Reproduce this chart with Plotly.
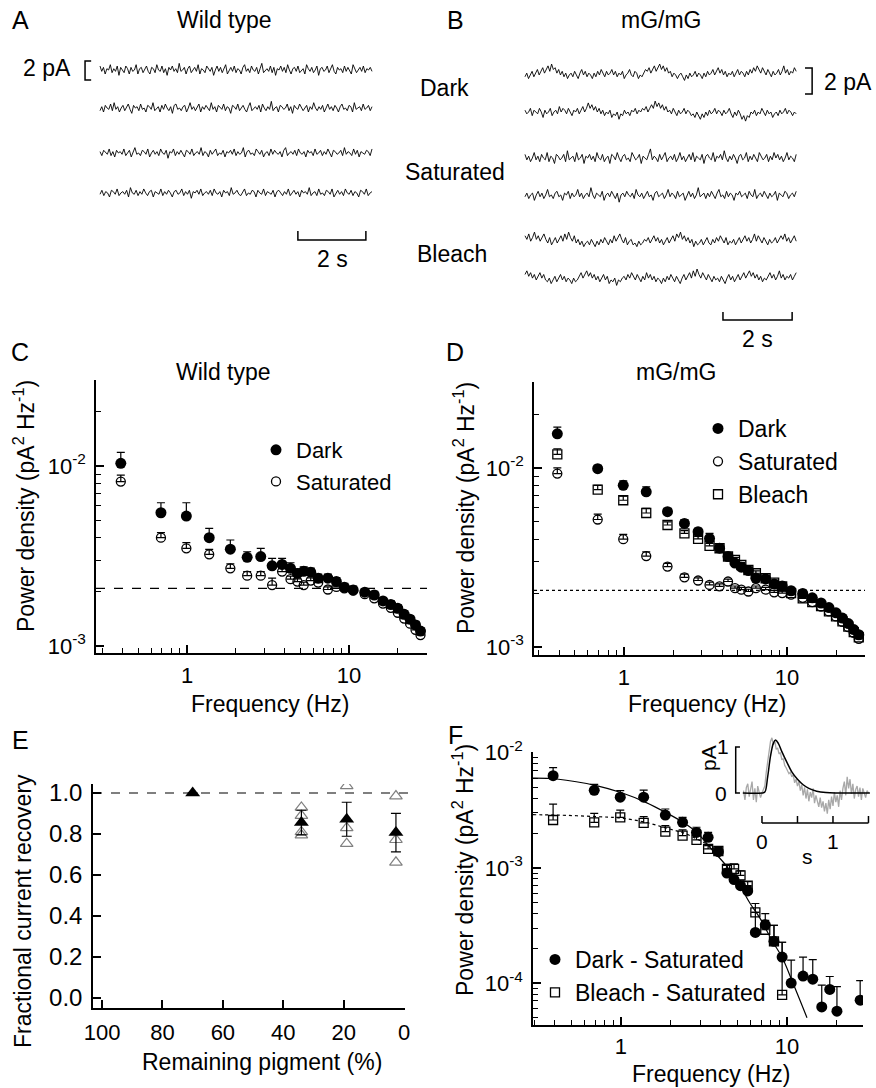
import numpy as np
import plotly.graph_objects as go

W, H = 876, 1088
FONT = "Arial, 'Liberation Sans', Helvetica, sans-serif"

# ---------------- data ----------------
# Panel A / B: noise traces, values in noise units (NOISE_UNIT_PA pA each)
NOISE_UNIT_PA = 0.14
WT_DARK_1 = [3,-1,2,-3,1,0,4,-2,1,-1,3,-4,2,0,-2,3,1,-3,2,-1,0,4,-3,1,2,-2,0,3,-1,-3,2,1,-2,4,0,-1,3,-2,1,-4,2,0,3,-1,1,-2,5,-1,0,2,-3,1,3,-2,0,2,-1,4,-3,1,0,-2,3,1,-1,2,-4,0,3,-1,2,-2,1,4,-3,0,2,-1,3,-2,1,0,-3,2,4,-1,1,-2,3,0,-1,2,-3,1,5,-2,0,1,-1,3,-2,2,-4,1,0,3,-1,2,-2,4,0,-3,1,2,-1,3,-2,0,1,-3,4,1,-1,2,-2,0,3,-4,1,2,-1,0,3,-2,1,4,-1,-3,2,0,1,-2,3,-1,2,0,-3,4,1,-2,0,2,-1,3,-2,1,0,2,-1]
WT_DARK_2 = [-2,1,-3,2,0,-1,3,-2,4,-1,1,-3,0,2,-2,1,3,-1,-4,2,0,1,-2,3,-1,0,-3,2,1,-1,4,-2,0,1,-3,2,-1,3,0,-2,1,-4,2,3,-1,0,-2,1,2,-3,0,4,-1,1,-2,0,3,-3,1,-1,2,0,-2,4,-1,1,-3,2,0,-1,3,-2,1,0,-4,2,1,-1,3,-2,0,2,-1,-3,1,4,-2,0,1,-1,2,-3,3,0,-2,1,-1,5,-2,0,1,-3,2,1,-1,0,3,-2,1,-4,2,0,-1,3,1,-2,0,2,-3,1,-1,4,0,-2,1,-1,2,-3,0,3,-1,1,-2,2,0,-3,1,3,-1,0,-2,2,1,-3,4,-1,0,1,-2,3,-1,0,2,-2,1]
WT_SAT_1 = [1,-2,2,0,-1,3,-2,1,-3,2,0,1,-1,3,-2,0,2,-3,1,4,-1,0,-2,2,1,-1,3,-3,0,2,-1,1,-2,3,0,-1,2,-4,1,0,3,-2,1,-1,2,0,-3,2,1,-1,3,-2,0,1,-1,4,-2,1,0,-3,2,-1,1,3,-2,0,-1,2,-3,1,0,2,-1,3,-2,1,-1,0,4,-3,1,2,-1,0,-2,3,1,-1,2,-3,0,1,-2,3,-1,2,0,-1,1,-3,2,4,-2,0,1,-1,2,-2,3,0,-1,1,-3,2,0,1,-2,3,-1,0,2,-2,1,-1,3,0,-3,2,1,-1,0,2,-2,4,-1,1,0,-2,3,-1,2,-3,1,0,-1,2,1,-2,3]
WT_SAT_2 = [-1,2,-2,1,0,-3,2,1,-1,3,-2,0,1,-1,2,-3,4,0,-1,2,-2,1,-1,3,0,-2,1,2,-3,1,0,-1,3,-2,1,-1,2,0,-3,1,2,-1,0,3,-2,1,-1,2,-4,1,0,2,-1,3,-2,0,1,-1,2,-2,3,0,-1,1,-3,2,0,1,-2,4,-1,0,2,-1,-2,1,3,-2,0,-1,2,1,-3,2,0,-1,3,-2,1,0,-1,2,-3,1,2,0,-2,1,-1,3,-2,0,2,-1,1,-3,2,0,1,-1,4,-2,0,1,-2,3,-1,0,-2,2,1,-1,3,-3,0,2,-1,1,-2,3,0,-1,2,-2,1,0,-3,2,1,-1,3,-2,0,1]
MG_DARK_1 = [-1,1,-2,0,2,-1,1,3,0,2,4,1,3,5,2,6,3,4,1,3,0,2,-1,1,-2,0,1,-1,2,0,-2,1,3,0,2,-1,1,0,-2,1,-1,2,0,3,1,-1,2,0,1,3,0,2,-1,1,0,2,-2,0,1,3,0,-1,2,1,-2,0,-1,1,3,2,4,1,3,5,2,4,6,3,5,2,4,1,2,-1,1,0,-2,0,1,-1,-3,0,-2,1,-1,0,2,-1,1,0,-2,1,-1,2,0,1,3,0,2,4,1,3,0,2,-1,1,0,2,-1,1,3,0,2,1,-1,2,0,3,1,4,2,5,3,1,4,2,0,3,1,-1,2,0,1,3,0,2,5,1,3,0,2,1,4,2]
MG_DARK_2 = [1,-1,0,2,-2,1,0,-1,2,0,-3,1,-1,0,2,-2,0,1,-1,3,0,2,1,-1,2,0,-2,1,0,2,-1,1,3,0,2,5,2,4,1,3,0,2,-1,1,-2,0,-1,1,-3,-1,-2,0,-4,-1,-2,1,-1,0,-2,1,0,2,-1,1,0,2,1,3,0,2,4,2,6,3,5,2,4,1,3,0,1,-1,2,0,-2,1,-1,0,2,-1,1,0,-2,-1,-3,0,-2,-4,-1,-3,0,-2,1,-1,0,2,-1,1,0,-2,1,-1,0,2,-1,-3,0,-2,1,-1,-4,-2,-5,-2,-3,0,-1,1,-2,0,-1,2,0,-2,1,-1,0,-3,-1,0,-2,1,-1,0,2,-1,1,0,-2,0,-1]
MG_SAT_1 = [2,-1,1,-2,0,3,-1,1,-2,2,0,-1,3,-2,1,0,-3,2,1,-1,0,2,-2,4,-1,0,1,-2,3,-1,0,2,-3,1,0,2,-1,1,-2,3,0,-1,2,-2,0,1,-3,2,1,-1,3,0,-2,1,2,-1,0,-2,3,1,-1,0,2,-3,1,0,-1,2,5,-1,1,0,-2,2,-1,1,3,-2,0,1,-1,2,-2,0,3,-1,1,-2,0,2,-1,3,-2,1,0,-1,2,-3,1,2,0,-1,3,-2,1,0,2,-1,4,0,-2,1,-1,2,0,-3,1,2,-1,0,3,-2,1,-1,2,0,-2,3,1,-1,0,2,-2,1,-1,3,0,2,-1,1,-2,0,3,-1,1,0,-2,2]
MG_SAT_2 = [-1,1,-2,0,1,-3,0,2,-1,1,-2,0,3,-1,0,-2,1,2,-1,0,-3,1,0,2,-2,1,-1,0,3,-1,1,-2,0,1,-1,4,0,-2,1,0,-1,2,-3,0,1,-1,2,0,-2,1,-4,0,1,-1,2,0,-1,1,-2,3,0,-1,1,-2,0,2,-1,0,-3,1,2,-1,0,1,-2,0,3,-1,1,0,-2,2,-1,0,1,-3,0,2,-1,1,-2,0,4,-1,0,1,-2,1,-1,2,0,-2,1,3,-1,0,-2,2,-1,1,0,-3,1,0,2,-1,0,1,-2,2,0,-1,3,-2,0,1,-1,2,0,-2,1,-1,0,2,-3,1,0,-1,2,1,-2,0,1,-1,2]
MG_BLEACH_1 = [4,2,5,1,3,6,2,4,1,3,5,2,0,3,-1,1,3,0,2,4,1,5,2,6,3,1,4,0,2,-1,1,-2,0,1,-1,2,0,-2,1,-1,2,0,3,1,-1,2,0,4,1,3,5,2,0,3,-1,1,2,-1,0,-2,1,-1,0,2,1,3,0,2,4,1,3,0,2,-1,1,3,0,2,4,1,5,3,6,2,4,1,3,0,2,-2,1,-1,0,2,-1,1,3,0,-1,2,0,3,1,4,2,0,3,-1,1,0,2,-1,1,3,0,2,4,1,3,0,2,5,1,4,2,0,3,1,-1,2,0,1,3,0,2,4,2,5,1,3,0,2,4,1]
MG_BLEACH_2 = [3,5,2,4,1,3,0,2,4,1,3,0,-1,1,-2,0,2,-1,1,3,0,2,-1,1,0,-2,1,-1,0,2,4,1,3,5,2,4,1,3,0,2,-1,1,3,0,2,-2,0,-1,1,-3,0,-1,1,2,0,3,1,4,2,0,3,1,-1,2,0,4,1,3,0,2,-1,1,0,-2,1,-1,2,0,3,1,-1,2,0,-2,1,3,0,2,4,1,5,2,6,3,1,4,2,0,3,1,-1,2,0,1,-1,2,0,-2,1,3,0,2,-1,1,3,0,2,4,1,3,5,2,4,1,3,0,2,-1,1,0,2,4,1,3,0,2,5,1,3,0,2,1,3,0,2,4]
TRACE_DURATION_S = 8.0

# Panels C / D: power spectra
FREQ = [0.39, 0.69, 0.99, 1.37, 1.85, 2.35, 2.85, 3.35, 3.86, 4.35, 4.8, 5.25, 5.8, 6.45,
        7.4, 8.35, 9.35, 10.6, 12.5, 14.3, 16.2, 18.1, 20.0, 21.9, 23.8, 25.7, 27.6]
WT_DARK = [1.035e-2, 5.5e-3, 5.27e-3, 4.0e-3, 3.45e-3, 3.11e-3, 3.14e-3, 2.79e-3, 2.84e-3, 2.7e-3,
           2.53e-3, 2.6e-3, 2.57e-3, 2.38e-3, 2.38e-3, 2.28e-3, 2.12e-3, 2.05e-3, 1.99e-3, 1.92e-3,
           1.78e-3, 1.70e-3, 1.62e-3, 1.50e-3, 1.41e-3, 1.31e-3, 1.21e-3]
WT_DARK_ERR = [1.55e-3, 7.5e-4, 9.8e-4, 5e-4, 4.3e-4, 2.3e-4, 3.5e-4, 2.8e-4, 2.3e-4, 2e-4,
               1.5e-4, 1.5e-4, 1.4e-4, 1.3e-4, 1.3e-4, 1.2e-4, 1.1e-4, 1e-4, 9e-5, 9e-5,
               8e-5, 8e-5, 7e-5, 7e-5, 6e-5, 6e-5, 5e-5]
WT_SAT = [8.2e-3, 4.0e-3, 3.49e-3, 3.23e-3, 2.7e-3, 2.46e-3, 2.46e-3, 2.18e-3, 2.59e-3, 2.35e-3,
          2.28e-3, 2.18e-3, 2.31e-3, 2.25e-3, 2.06e-3, 2.13e-3, 2.09e-3, 2.03e-3, 1.94e-3, 1.84e-3,
          1.72e-3, 1.63e-3, 1.53e-3, 1.42e-3, 1.33e-3, 1.23e-3, 1.15e-3]
WT_SAT_ERR = [7e-4, 2.7e-4, 2.6e-4, 2.1e-4, 1.6e-4, 1.3e-4, 1.3e-4, 2e-4, 1e-4, 9e-5,
              8e-5, 8e-5, 8e-5, 7e-5, 7e-5, 7e-5, 6e-5, 6e-5, 6e-5, 6e-5,
              5e-5, 5e-5, 5e-5, 5e-5, 5e-5, 4e-5, 4e-5]
MG_DARK = [1.55e-2, 9.9e-3, 8.0e-3, 7.35e-3, 5.7e-3, 4.9e-3, 4.4e-3, 4.04e-3, 3.56e-3, 3.2e-3,
           2.94e-3, 2.79e-3, 2.67e-3, 2.42e-3, 2.4e-3, 2.25e-3, 2.19e-3, 2.06e-3, 1.99e-3, 1.88e-3,
           1.76e-3, 1.66e-3, 1.55e-3, 1.45e-3, 1.35e-3, 1.25e-3, 1.17e-3]
MG_DARK_ERR = [1.4e-3, 4.5e-4, 4.7e-4, 4.8e-4, 2.4e-4, 2.5e-4, 1.9e-4, 2.7e-4, 1.2e-4, 1.1e-4,
               1e-4, 1e-4, 9e-5, 1.3e-4, 9e-5, 8e-5, 8e-5, 7e-5, 7e-5, 6e-5,
               6e-5, 6e-5, 5e-5, 5e-5, 5e-5, 4e-5, 4e-5]
MG_SAT = [9.3e-3, 5.15e-3, 4.0e-3, 3.22e-3, 2.81e-3, 2.45e-3, 2.35e-3, 2.22e-3, 2.18e-3, 2.32e-3,
          2.13e-3, 2.09e-3, 2.04e-3, 2.13e-3, 2.09e-3, 2.02e-3, 2.0e-3, 1.96e-3, 1.88e-3, 1.78e-3,
          1.68e-3, 1.58e-3, 1.48e-3, 1.38e-3, 1.29e-3, 1.20e-3, 1.11e-3]
MG_SAT_ERR = [7e-4, 3.7e-4, 2.5e-4, 1.8e-4, 1.2e-4, 1e-4, 8e-5, 8e-5, 7e-5, 7e-5,
              6e-5, 6e-5, 6e-5, 6e-5, 6e-5, 5e-5, 5e-5, 5e-5, 5e-5, 5e-5,
              5e-5, 4e-5, 4e-5, 4e-5, 4e-5, 4e-5, 4e-5]
MG_BLEACH = [1.19e-2, 7.57e-3, 6.6e-3, 5.6e-3, 4.8e-3, 4.31e-3, 4.01e-3, 3.67e-3, 3.56e-3, 3.2e-3,
             3.06e-3, 2.87e-3, 2.69e-3, 2.58e-3, 2.42e-3, 2.29e-3, 2.18e-3, 2.0e-3, 1.87e-3, 1.78e-3,
             1.69e-3, 1.58e-3, 1.48e-3, 1.39e-3, 1.30e-3, 1.21e-3, 1.13e-3]
MG_BLEACH_ERR = [9e-4, 4.3e-4, 3.5e-4, 3.4e-4, 2e-4, 1.5e-4, 1.3e-4, 1.2e-4, 1.1e-4, 1e-4,
                 1e-4, 9e-5, 9e-5, 8e-5, 8e-5, 7e-5, 7e-5, 6e-5, 6e-5, 6e-5,
                 5e-5, 5e-5, 5e-5, 4e-5, 4e-5, 4e-5, 4e-5]
WT_NOISE_LEVEL = 2.09e-3
MG_NOISE_LEVEL = 2.07e-3

# Panel E: fractional current recovery
E_PIGMENT_MEAN = [70, 34, 19, 2.7]
E_RECOVERY_MEAN = [1.0, 0.856, 0.872, 0.807]
E_RECOVERY_ERR = [0.0, 0.06, 0.083, 0.094]
E_PIGMENT_CELLS = [34, 34, 34, 34, 19, 19, 19, 2.7, 2.7, 2.7]
E_RECOVERY_CELLS = [0.93, 0.89, 0.81, 0.795, 1.035, 0.83, 0.753, 0.985, 0.772, 0.662]

# Panel F: difference spectra
F_DARK_FREQ = FREQ[:23] + [FREQ[26]]
F_DARK = [6.3e-3, 4.7e-3, 4.1e-3, 4.1e-3, 2.87e-3, 2.48e-3, 2.03e-3, 1.84e-3, 1.38e-3, 9.0e-4,
          7.9e-4, 7.0e-4, 6.3e-4, 2.75e-4, 3.2e-4, 2.3e-4, 1.68e-4, 1.0e-4, 1.15e-4, 1.08e-4,
          6.2e-5, 8.8e-5, 5.7e-5, 7.1e-5]
F_DARK_ERR = [1.1e-3, 6e-4, 5.7e-4, 6.3e-4, 3.7e-4, 2.6e-4, 2.2e-4, 1.9e-4, 1.5e-4, 1.5e-4,
              1e-4, 8e-5, 6e-5, 1.36e-4, 8e-5, 8.7e-5, 5.8e-5, 5.8e-5, 5.3e-5, 5.2e-5,
              3.4e-5, 2.6e-5, 3.6e-5, 3.4e-5]
F_BLEACH_FREQ = FREQ[:17]
F_BLEACH = [2.6e-3, 2.48e-3, 2.74e-3, 2.45e-3, 2.06e-3, 1.9e-3, 1.75e-3, 1.46e-3, 1.4e-3, 9.8e-4,
            9.8e-4, 8.6e-4, 7.0e-4, 4.1e-4, 2.9e-4, 2.3e-4, 7.9e-5]
F_BLEACH_ERR = [9.7e-4, 4.9e-4, 4.3e-4, 3.3e-4, 2.6e-4, 2.3e-4, 1.6e-4, 1e-4, 1e-4, 9e-5,
                1e-4, 8e-5, 6e-5, 8e-5, 6e-5, 8.7e-5, 1.47e-4]
FIT_DARK_FREQ = [0.295, 0.41, 0.72, 1.0, 1.41, 1.9, 2.4, 2.86, 3.44, 4.29, 5.2, 6.0, 6.87, 8.24, 9.33, 10.8, 13.2]
FIT_DARK = [6.0e-3, 5.9e-3, 5.15e-3, 4.5e-3, 3.7e-3, 2.97e-3, 2.45e-3, 2.03e-3, 1.5e-3, 1.05e-3,
            7.0e-4, 4.9e-4, 3.66e-4, 2.26e-4, 1.68e-4, 1.02e-4, 5.0e-5]
FIT_BLEACH_FREQ = [0.295, 0.41, 0.72, 1.0, 1.41, 1.9, 2.4, 2.86, 3.33, 3.82]
FIT_BLEACH = [2.89e-3, 2.87e-3, 2.78e-3, 2.7e-3, 2.48e-3, 2.2e-3, 2.0e-3, 1.78e-3, 1.59e-3, 1.37e-3]

# Panel F inset: single-photon response (pA) sampled every 20 ms from -0.26 s
INSET_T0, INSET_DT = -0.26, 0.02
INSET_RAW = [0.05,-0.15,0.12,0.2,-0.08,0.05,0.25,-0.15,0.1,-0.2,0.15,0.02,-0.1,
             0.0,0.1,0.15,0.45,0.7,0.95,1.12,1.2,1.05,1.15,0.95,0.98,0.85,0.88,0.72,0.75,0.6,0.55,0.5,0.42,0.45,
             0.35,0.4,0.22,0.3,0.15,0.25,0.05,0.18,-0.05,0.12,-0.12,0.08,-0.18,0.02,-0.1,0.1,-0.22,-0.05,-0.15,-0.3,
             -0.1,-0.32,-0.18,-0.4,-0.22,-0.45,-0.15,-0.35,-0.08,-0.28,0.02,-0.2,-0.05,-0.3,0.05,-0.15,0.1,0.25,
             -0.05,0.35,0.1,0.3,-0.02,0.2,-0.12,0.08,0.15,-0.08,0.12,-0.15,0.1,-0.02,-0.1,0.05,0.0]
INSET_FIT_T = [-0.27, 0.0, 0.04, 0.08, 0.12, 0.16, 0.19, 0.23, 0.28, 0.35, 0.42, 0.5, 0.58, 0.66, 0.77, 0.9, 1.05, 1.52]
INSET_FIT = [0.0, 0.0, 0.02, 0.35, 0.8, 1.08, 1.15, 1.08, 0.9, 0.67, 0.46, 0.3, 0.18, 0.1, 0.04, 0.01, 0.0, 0.0]


# ---------------- helpers ----------------
def xdom(a, b):
    return [a / W, b / W]


def ydom(top, bottom):
    return [1 - bottom / H, 1 - top / H]


def minor_log(lo_exp, hi_exp, lo=None, hi=None):
    vals = []
    for e in range(lo_exp, hi_exp + 1):
        for k in range(2, 10):
            v = k * 10.0 ** e
            if (lo is None or v >= lo) and (hi is None or v <= hi):
                vals.append(v)
    return vals


BLACK = "black"
AX = dict(showline=True, linecolor=BLACK, linewidth=1.5, ticks="inside", ticklen=8, tickwidth=1.5,
          tickcolor=BLACK, showgrid=False, zeroline=False, mirror=False, automargin=False,
          tickfont=dict(family=FONT, size=22, color=BLACK))
HIDDEN = dict(visible=False, showgrid=False, zeroline=False, automargin=False)


def err(vals):
    return dict(type="data", symmetric=False, array=vals, arrayminus=[0] * len(vals),
                thickness=1.2, width=4, color=BLACK)


fig = go.Figure()

# ---------------- Panel A & B traces ----------------
A_ROWS = [-3.16, -7.16, -11.89, -16.1]
for off, vals in zip(A_ROWS, [WT_DARK_1, WT_DARK_2, WT_SAT_1, WT_SAT_2]):
    t = np.linspace(0, TRACE_DURATION_S, len(vals))
    fig.add_trace(go.Scatter(x=t, y=off + NOISE_UNIT_PA * np.array(vals), mode="lines",
                             line=dict(color=BLACK, width=0.9), xaxis="x6", yaxis="y6", showlegend=False))
B_ROWS = [-2.69, -5.54, -9.08, -11.92, -15.62, -18.46]
for off, vals in zip(B_ROWS, [MG_DARK_1, MG_DARK_2, MG_SAT_1, MG_SAT_2, MG_BLEACH_1, MG_BLEACH_2]):
    t = np.linspace(0, TRACE_DURATION_S, len(vals))
    fig.add_trace(go.Scatter(x=t, y=off + NOISE_UNIT_PA * np.array(vals), mode="lines",
                             line=dict(color=BLACK, width=0.9), xaxis="x7", yaxis="y7", showlegend=False))

# ---------------- Panel C ----------------
C_RANGE_X = [-0.562, 1.481]
fig.add_trace(go.Scatter(x=[10 ** C_RANGE_X[0], 10 ** C_RANGE_X[1]], y=[WT_NOISE_LEVEL] * 2, mode="lines",
                         line=dict(color=BLACK, width=1.2, dash="dash"), xaxis="x", yaxis="y", showlegend=False))
fig.add_trace(go.Scatter(x=FREQ, y=WT_DARK, mode="markers", name="Dark", legend="legend",
                         marker=dict(symbol="circle", size=11, color=BLACK),
                         error_y=err(WT_DARK_ERR), xaxis="x", yaxis="y"))
fig.add_trace(go.Scatter(x=FREQ, y=WT_SAT, mode="markers", name="Saturated", legend="legend",
                         marker=dict(symbol="circle-open", size=9, color=BLACK, line=dict(width=1.3)),
                         error_y=err(WT_SAT_ERR), xaxis="x", yaxis="y"))

# ---------------- Panel D ----------------
D_RANGE_X = [-0.552, 1.479]
fig.add_trace(go.Scatter(x=[10 ** D_RANGE_X[0], 10 ** D_RANGE_X[1]], y=[MG_NOISE_LEVEL] * 2, mode="lines",
                         line=dict(color=BLACK, width=1.2, dash="dot"), xaxis="x2", yaxis="y2", showlegend=False))
fig.add_trace(go.Scatter(x=FREQ, y=MG_DARK, mode="markers", name="Dark", legend="legend2",
                         marker=dict(symbol="circle", size=11, color=BLACK),
                         error_y=err(MG_DARK_ERR), xaxis="x2", yaxis="y2"))
fig.add_trace(go.Scatter(x=FREQ, y=MG_SAT, mode="markers", name="Saturated", legend="legend2",
                         marker=dict(symbol="circle-open", size=9, color=BLACK, line=dict(width=1.3)),
                         error_y=err(MG_SAT_ERR), xaxis="x2", yaxis="y2"))
fig.add_trace(go.Scatter(x=FREQ, y=MG_BLEACH, mode="markers", name="Bleach", legend="legend2",
                         marker=dict(symbol="square-open", size=9, color=BLACK, line=dict(width=1.3)),
                         error_y=err(MG_BLEACH_ERR), xaxis="x2", yaxis="y2"))

# ---------------- Panel E ----------------
fig.add_trace(go.Scatter(x=E_PIGMENT_CELLS, y=E_RECOVERY_CELLS, mode="markers", showlegend=False,
                         marker=dict(symbol="triangle-up-open", size=11, color="#808080", line=dict(width=1.2)),
                         xaxis="x3", yaxis="y3"))
fig.add_trace(go.Scatter(x=E_PIGMENT_MEAN, y=E_RECOVERY_MEAN, mode="markers", showlegend=False,
                         marker=dict(symbol="triangle-up", size=13, color=BLACK),
                         error_y=dict(type="data", array=E_RECOVERY_ERR, thickness=1.2, width=5, color=BLACK),
                         xaxis="x3", yaxis="y3"))

# ---------------- Panel F ----------------
fig.add_trace(go.Scatter(x=FIT_DARK_FREQ, y=FIT_DARK, mode="lines", showlegend=False,
                         line=dict(color=BLACK, width=1.2, shape="spline"), xaxis="x4", yaxis="y4"))
fig.add_trace(go.Scatter(x=FIT_BLEACH_FREQ, y=FIT_BLEACH, mode="lines", showlegend=False,
                         line=dict(color=BLACK, width=1.2, dash="dot", shape="spline"), xaxis="x4", yaxis="y4"))
fig.add_trace(go.Scatter(x=F_DARK_FREQ, y=F_DARK, mode="markers", name="Dark - Saturated", legend="legend3",
                         marker=dict(symbol="circle", size=11, color=BLACK),
                         error_y=err(F_DARK_ERR), xaxis="x4", yaxis="y4"))
fig.add_trace(go.Scatter(x=F_BLEACH_FREQ, y=F_BLEACH, mode="markers", name="Bleach - Saturated", legend="legend3",
                         marker=dict(symbol="square-open", size=9, color=BLACK, line=dict(width=1.3)),
                         error_y=err(F_BLEACH_ERR), xaxis="x4", yaxis="y4"))

# inset
t_in = INSET_T0 + INSET_DT * np.arange(len(INSET_RAW))
fig.add_trace(go.Scatter(x=t_in, y=INSET_RAW, mode="lines", line=dict(color="#a8a8a8", width=1.3),
                         xaxis="x5", yaxis="y5", showlegend=False))
fig.add_trace(go.Scatter(x=INSET_FIT_T, y=INSET_FIT, mode="lines", line=dict(color=BLACK, width=1.5, shape="spline"),
                         xaxis="x5", yaxis="y5", showlegend=False))

# ---------------- shapes (scale bars, inset axes) ----------------
shapes = []
LW = 1.5
shapes.append(dict(type="path", xref="x6", yref="y6", line=dict(color=BLACK, width=LW),
                   path="M -0.26,-2.21 L -0.44,-2.21 L -0.44,-4.21 L -0.26,-4.21"))
shapes.append(dict(type="path", xref="x6", yref="y6", line=dict(color=BLACK, width=LW),
                   path="M 5.82,-20.1 L 5.82,-21.05 L 7.82,-21.05 L 7.82,-20.1"))
shapes.append(dict(type="path", xref="x7", yref="y7", line=dict(color=BLACK, width=LW),
                   path="M 8.26,-2.15 L 8.47,-2.15 L 8.47,-4.15 L 8.26,-4.15"))
shapes.append(dict(type="path", xref="x7", yref="y7", line=dict(color=BLACK, width=LW),
                   path="M 5.84,-20.92 L 5.84,-21.54 L 7.88,-21.54 L 7.88,-20.92"))
shapes.append(dict(type="line", xref="x3 domain", yref="y3", x0=0, x1=1.02, y0=1.0, y1=1.0,
                   line=dict(color=BLACK, width=1.2, dash="dash")))
shapes.append(dict(type="path", xref="x5", yref="y5", line=dict(color=BLACK, width=LW),
                   path="M -0.31,1 L -0.37,1 L -0.37,0 L -0.31,0"))
shapes.append(dict(type="line", xref="x5", yref="y5", x0=0, x1=1.5, y0=-0.65, y1=-0.65,
                   line=dict(color=BLACK, width=LW)))
for tk in [0, 0.5, 1.0, 1.5]:
    shapes.append(dict(type="line", xref="x5", yref="y5", x0=tk, x1=tk, y0=-0.65, y1=-0.5,
                       line=dict(color=BLACK, width=LW)))

# ---------------- annotations ----------------
ann = []


def text(s, px, py, size=23, angle=0, xanchor="center"):
    ann.append(dict(text=s, x=px / W, y=1 - py / H, xref="paper", yref="paper", showarrow=False,
                    xanchor=xanchor, yanchor="middle", textangle=angle,
                    font=dict(family=FONT, size=size, color=BLACK)))


text("A", 20, 20, 25)
text("B", 455, 20, 25)
text("Wild type", 224, 20)
text("mG/mG", 661, 20)
text("2 pA", 47, 68)
text("2 pA", 848, 82)
text("Dark", 444, 88)
text("Saturated", 455, 172)
text("Bleach", 452, 254)
text("2 s", 332, 259)
text("2 s", 757, 339)
text("C", 20, 352, 25)
text("D", 455, 352, 25)
text("Wild type", 223, 372)
text("mG/mG", 676, 372)
YT = "Power density (pA<sup>2</sup> Hz<sup>-1</sup>)"
text(YT, 24, 506, angle=-90)
text(YT, 464, 508, angle=-90)
text("Frequency (Hz)", 270, 704)
text("Frequency (Hz)", 707, 704)
text("E", 20, 740, 25)
text("F", 455, 735, 25)
text("Fractional current recovery", 23, 911, angle=-90)
text("Remaining pigment (%)", 262, 1062)
text(YT, 463, 870, angle=-90)
text("Frequency (Hz)", 711, 1074)
text("1", 723, 746, 21)
text("0", 721, 793, 21)
text("pA", 708, 758, 21, angle=-90)
text("0", 762, 841, 21)
text("1", 833, 841, 21)
text("s", 807, 856, 21)

# ---------------- layout ----------------
def LOGTICK(e):
    return "10<sup>%d</sup>" % e


MINOR = dict(ticks="inside", ticklen=5, tickwidth=1.2, tickcolor=BLACK, tickmode="array")
LEG = dict(xanchor="left", yanchor="top", bgcolor="rgba(0,0,0,0)",
           font=dict(family=FONT, size=23, color=BLACK), itemwidth=30, tracegroupgap=0)

layout = dict(
    template="none",
    width=W, height=H, margin=dict(l=0, r=0, t=0, b=0, pad=0, autoexpand=False),
    paper_bgcolor="white", plot_bgcolor="rgba(0,0,0,0)",
    font=dict(family=FONT, size=22, color=BLACK),
    shapes=shapes, annotations=ann,
    xaxis=dict(AX, type="log", domain=xdom(96, 427), range=C_RANGE_X, anchor="y",
               tickvals=[1, 10], ticktext=["1", "10"], ticklabelstandoff=2,
               minor=dict(MINOR, tickvals=minor_log(-1, 1, 0.28, 30))),
    yaxis=dict(AX, type="log", domain=ydom(380, 653), range=[-3.039, -1.522], anchor="x",
               tickvals=[1e-3, 1e-2], ticktext=[LOGTICK(-3), LOGTICK(-2)], ticklabelstandoff=4,
               minor=dict(MINOR, tickvals=minor_log(-3, -2, 1e-3, 0.02))),
    xaxis2=dict(AX, type="log", domain=xdom(534, 865), range=D_RANGE_X, anchor="y2",
                tickvals=[1, 10], ticktext=["1", "10"], ticklabelstandoff=2,
                minor=dict(MINOR, tickvals=minor_log(-1, 1, 0.28, 30))),
    yaxis2=dict(AX, type="log", domain=ydom(382, 655), range=[-3.045, -1.520], anchor="x2",
                tickvals=[1e-3, 1e-2], ticktext=[LOGTICK(-3), LOGTICK(-2)], ticklabelstandoff=4,
                minor=dict(MINOR, tickvals=minor_log(-3, -2, 1e-3, 0.02))),
    xaxis3=dict(AX, domain=xdom(93, 405), range=[103, -0.3], anchor="y3",
                tickvals=[0, 20, 40, 60, 80, 100], ticklabelstandoff=4),
    yaxis3=dict(AX, domain=ydom(784, 1008), range=[-0.049, 1.044], anchor="x3",
                tickvals=[0, 0.2, 0.4, 0.6, 0.8, 1.0], tickformat=".1f", ticklabelstandoff=4,
                tickfont=dict(family=FONT, size=24, color=BLACK)),
    xaxis4=dict(AX, type="log", domain=xdom(533, 863), range=[-0.530, 1.458], anchor="y4",
                tickvals=[1, 10], ticktext=["1", "10"], ticklabelstandoff=1,
                minor=dict(MINOR, tickvals=minor_log(-1, 1, 0.3, 28))),
    yaxis4=dict(AX, type="log", domain=ydom(752, 1025), range=[-4.364, -1.995], anchor="x4",
                tickvals=[1e-4, 1e-3, 1e-2], ticktext=[LOGTICK(-4), LOGTICK(-3), LOGTICK(-2)],
                ticklabelstandoff=4,
                minor=dict(MINOR, tickvals=minor_log(-5, -3, 4.4e-5, 9.5e-3))),
    xaxis5=dict(HIDDEN, domain=xdom(700, 876), range=[-0.873, 1.606], anchor="y5"),
    yaxis5=dict(HIDDEN, domain=ydom(730, 870), range=[-1.674, 1.370], anchor="x5"),
    xaxis6=dict(HIDDEN, domain=xdom(20, 440), range=[-2.353, 10.0], anchor="y6"),
    yaxis6=dict(HIDDEN, domain=ydom(40, 270), range=[-24.21, 0], anchor="x6"),
    xaxis7=dict(HIDDEN, domain=xdom(480, 876), range=[-1.327, 10.354], anchor="y7"),
    yaxis7=dict(HIDDEN, domain=ydom(40, 350), range=[-23.85, 0], anchor="x7"),
    legend=dict(LEG, x=256 / W, y=1 - 429 / H, font=dict(family=FONT, size=22, color=BLACK)),
    legend2=dict(LEG, x=698 / W, y=1 - 407 / H),
    legend3=dict(LEG, x=535 / W, y=1 - 938 / H),
)
fig.update_layout(**layout)
# place the fixed-size figure at the page origin (no default body margin), no toolbar
fig.write_html("out.html", config={"displayModeBar": False},
               post_script="document.body.style.margin='0px';")
